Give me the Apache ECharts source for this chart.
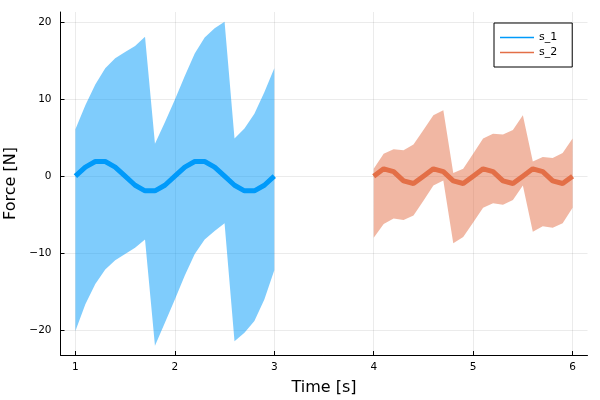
<!DOCTYPE html>
<html>
<head>
<meta charset="utf-8">
<script src="https://cdn.jsdelivr.net/npm/echarts@6/dist/echarts.min.js"></script>
<style>html,body{margin:0;padding:0;background:#fff}#c{width:600px;height:400px}</style>
</head>
<body>
<div id="c"></div>
<script>
var time1 = [1.0,1.1,1.2,1.3,1.4,1.5,1.6,1.7,1.8,1.9,2.0,2.1,2.2,2.3,2.4,2.5,2.6,2.7,2.8,2.9,3.0];
var mean1 = [0,1.18,1.9,1.9,1.18,0,-1.18,-1.9,-1.9,-1.18,0,1.18,1.9,1.9,1.18,0,-1.18,-1.9,-1.9,-1.18,0];
var upper1 = [6.1,9.2,11.9,14.0,15.3,16.1,16.9,18.1,4.2,7.0,9.9,13.0,15.9,18.0,19.2,20.05,4.9,6.2,8.1,10.9,14.0];
var lower1 = [-20.1,-16.6,-14.0,-12.1,-10.9,-10.1,-9.3,-8.2,-22.0,-19.0,-16.0,-12.9,-10.1,-8.2,-7.1,-6.1,-21.4,-20.3,-18.8,-16.0,-12.2];
var time2 = [4.0,4.1,4.2,4.3,4.4,4.5,4.6,4.7,4.8,4.9,5.0,5.1,5.2,5.3,5.4,5.5,5.6,5.7,5.8,5.9,6.0];
var mean2 = [0,0.95,0.6,-0.6,-0.95,0,0.95,0.6,-0.6,-0.95,0,0.95,0.6,-0.6,-0.95,0,0.95,0.6,-0.6,-0.95,0];
var upper2 = [0.96,2.9,3.5,3.35,4.1,6.0,7.9,8.55,0.4,0.96,2.9,4.9,5.5,5.4,6.0,7.9,1.9,2.5,2.35,3.0,4.9];
var lower2 = [-8.0,-6.2,-5.5,-5.7,-5.1,-3.2,-1.2,-0.56,-8.7,-7.9,-6.0,-4.1,-3.5,-3.7,-3.1,-1.2,-7.2,-6.5,-6.7,-6.1,-4.1];
var xTicks = [1,2,3,4,5,6];
var yTicks = [-20,-10,0,10,20];
var seriesNames = ['s_1','s_2'];
var colors = ['#009AFA','#E36F47'];
var fills = ['rgba(0,154,250,0.5)','rgba(227,111,71,0.5)'];

function zip(xs, ys){ return xs.map(function(x,i){return [x, ys[i]];}); }
function band(xs, lo, hi, fill){
  return {
    type:'custom', silent:true, data:[0],
    renderItem:function(params, api){
      var pts = [];
      for (var i=0;i<xs.length;i++) pts.push(api.coord([xs[i], hi[i]]));
      for (var j=xs.length-1;j>=0;j--) pts.push(api.coord([xs[j], lo[j]]));
      return {type:'polygon', shape:{points:pts}, style:{fill:fill, stroke:null}};
    }
  };
}
var font = 'DejaVu Sans';
var chart = echarts.init(document.getElementById('c'), null, {renderer:'canvas'});
chart.setOption({
  animation:false,
  textStyle:{fontFamily:font},
  grid:{left:60.5, top:12, width:527, height:343, containLabel:false, outerBoundsMode:'none'},
  legend:{
    data:seriesNames.map(function(n,i){
      return {name:n, icon:'rect', itemStyle:{color:colors[i], opacity:1}};
    }),
    orient:'vertical', left:494, top:23,
    padding:[8,15,8,6], itemGap:2, itemWidth:34, itemHeight:1.4,
    borderColor:'#000', borderWidth:1, backgroundColor:'#fff', borderRadius:0,
    textStyle:{fontFamily:font, fontSize:11, color:'#000', lineHeight:13}
  },
  xAxis:{
    type:'value', min:0.85, max:6.15,
    name:'Time [s]', nameLocation:'middle', nameGap:25,
    nameTextStyle:{fontFamily:font, fontSize:16, color:'#000'},
    axisLine:{onZero:false, lineStyle:{color:'#000', width:1}},
    axisTick:{inside:true, length:4, customValues:xTicks, lineStyle:{color:'#000'}},
    axisLabel:{customValues:xTicks, margin:7, fontSize:10.5, color:'#000', fontFamily:font},
    splitLine:{show:true, lineStyle:{color:'rgba(0,0,0,0.08)', width:1}}
  },
  yAxis:{
    type:'value', min:-23.2, max:21.3,
    name:'Force [N]', nameLocation:'middle', nameGap:42,
    nameTextStyle:{fontFamily:font, fontSize:16, color:'#000'},
    axisLine:{show:true, onZero:false, lineStyle:{color:'#000', width:1}},
    axisTick:{show:true, inside:true, length:4, customValues:yTicks, lineStyle:{color:'#000'}},
    axisLabel:{customValues:yTicks, margin:9, fontSize:10.5, color:'#000', fontFamily:font,
      formatter:function(v){return v<0 ? '\u2212'+Math.abs(v) : String(v);}},
    splitLine:{show:true, lineStyle:{color:'rgba(0,0,0,0.08)', width:1}}
  },
  series:[
    band(time1, lower1, upper1, fills[0]),
    {type:'line', name:seriesNames[0], data:zip(time1, mean1), symbol:'none',
     itemStyle:{color:colors[0]}, lineStyle:{color:colors[0], width:5}},
    band(time2, lower2, upper2, fills[1]),
    {type:'line', name:seriesNames[1], data:zip(time2, mean2), symbol:'none',
     itemStyle:{color:colors[1]}, lineStyle:{color:colors[1], width:5}}
  ]
});
</script>
</body>
</html>
